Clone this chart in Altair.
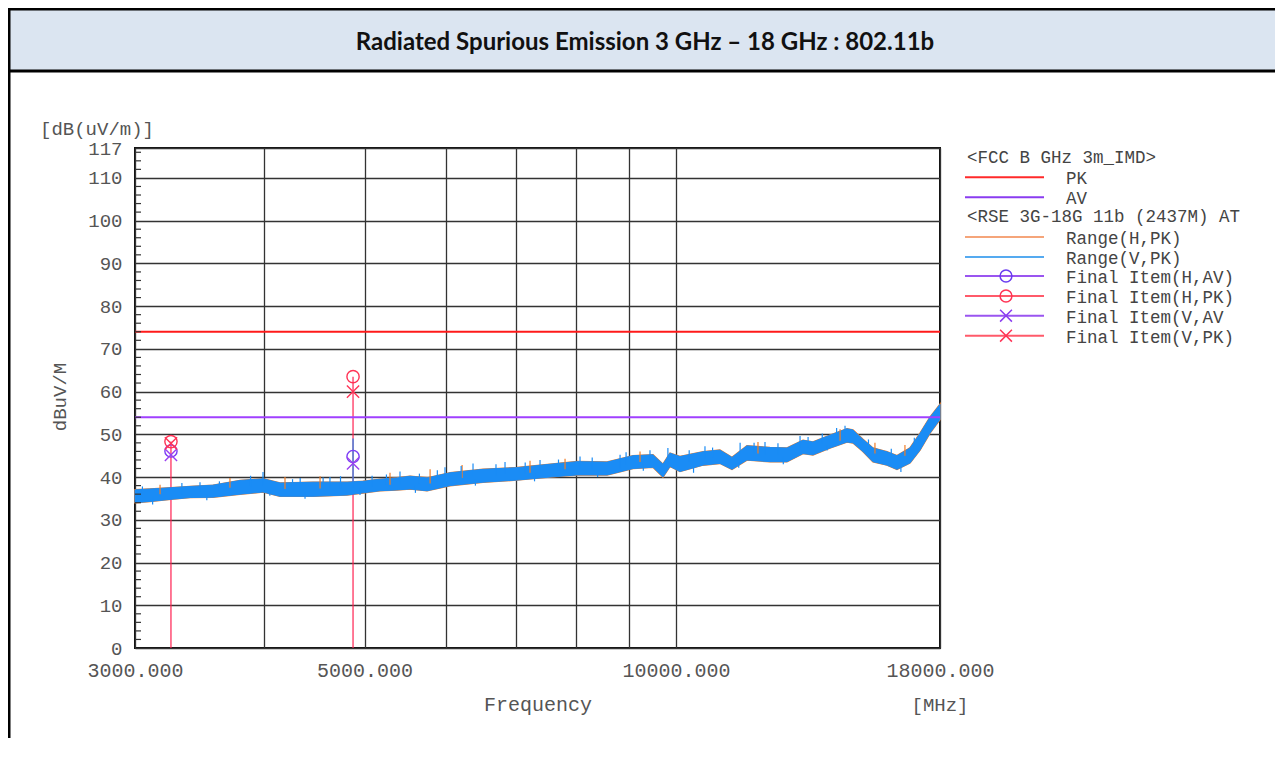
import altair as alt
import pandas as pd

# ---------------- data ----------------
trace_freq = [3000, 3101, 3250, 3391, 3569, 3790, 3989, 4143, 4459, 4810, 4983, 5175, 5375, 5534,
              5747, 6049, 6509, 7021, 7557, 8024, 8580, 9090, 9502, 9716, 9869, 10090, 10621, 11030,
              11329, 11713, 12328, 12805, 13268, 13567, 14090, 14634, 14831, 15163, 15505, 15995,
              16356, 16838, 17215, 17604, 18000]
trace_lo = [34.0, 34.3, 34.8, 35.2, 35.3, 36.0, 36.5, 35.5, 35.5, 35.8, 36.3, 36.8, 37.0, 37.2,
            36.8, 38.0, 38.8, 39.3, 40.0, 40.5, 40.5, 42.0, 42.3, 40.0, 42.5, 41.3, 42.8, 43.2,
            41.8, 44.0, 43.6, 43.6, 45.5, 45.2, 46.8, 48.2, 48.0, 46.0, 43.6, 42.8,
            41.8, 43.3, 46.3, 50.3, 53.5]
trace_hi = [37.0, 37.2, 37.5, 37.8, 38.1, 39.2, 39.6, 38.6, 38.8, 38.8, 39.0, 39.5, 39.8, 40.2,
            39.8, 41.0, 41.8, 42.2, 43.0, 43.6, 43.5, 45.0, 45.2, 43.0, 45.6, 44.8, 45.9, 46.3,
            44.6, 47.3, 46.9, 46.8, 48.6, 48.2, 49.8, 51.3, 51.0, 48.8, 46.8, 45.9,
            45.0, 46.8, 50.2, 54.0, 57.0]

# upward noise spikes of the V trace
v_spike_freq = [3467, 3989, 4333, 4630, 4874, 5085, 5411, 5981, 6366, 6836, 7390, 8078, 8831,
                9439, 9823, 10668, 11536, 12193, 13182, 14570,
                3050, 3330, 3620, 3880, 4260, 4560, 4740, 5250, 5650, 5880, 6200, 6700, 7150,
                7700, 8300, 8950, 10300, 10850, 11900, 12550, 13420, 13850, 14300, 15350, 16150, 17000]
v_spike_top = [38.8, 41.2, 39.8, 40.0, 49.0, 40.3, 41.3, 42.3, 43.2, 43.5, 44.0, 44.8, 45.2,
               46.3, 46.8, 47.2, 48.0, 48.2, 49.6, 52.0,
               37.8, 38.6, 39.0, 40.3, 39.5, 39.9, 40.2, 40.6, 40.8, 41.6, 42.6, 43.0, 43.4,
               44.1, 44.6, 45.8, 46.3, 46.9, 48.0, 47.9, 49.4, 50.2, 51.5, 48.8, 46.6, 49.2]
v_spike_base = [36.5, 38.0, 37.0, 37.3, 37.5, 37.8, 38.5, 39.5, 40.3, 40.8, 41.5, 42.0, 42.0,
                43.7, 44.0, 44.3, 45.5, 45.2, 47.0, 49.5,
                35.5, 36.0, 36.8, 37.8, 37.0, 37.2, 37.3, 38.2, 38.5, 39.0, 39.8, 40.3, 40.8,
                41.5, 42.0, 43.0, 43.5, 44.5, 45.5, 45.2, 47.0, 47.8, 49.0, 46.5, 44.5, 46.5]

# downward noise spikes of the V trace
vd_spike_freq = [3120, 3520, 4050, 4380, 4950, 5600, 6400, 7300, 8400, 9300, 10400, 11500, 12700, 14000, 16500]
vd_spike_top = [35.5, 36.0, 37.0, 36.5, 37.5, 38.0, 39.5, 40.8, 41.5, 43.0, 42.5, 43.5, 44.5, 47.5, 42.5]
vd_spike_bottom = [33.6, 34.6, 35.6, 34.9, 35.8, 36.3, 38.0, 39.0, 40.0, 41.5, 41.0, 42.2, 43.0, 46.2, 41.2]

# noise spikes of the H trace
h_spike_freq = [3172, 3706, 4189, 4529, 5292, 5786, 6213, 7227, 7813, 9232, 12004, 14410, 15574, 16649]
h_spike_top = [38.2, 39.8, 40.0, 40.2, 41.0, 41.8, 42.8, 43.8, 44.3, 46.0, 48.2, 51.2, 48.0, 47.5]
h_spike_base = [36.0, 37.5, 37.2, 37.3, 38.2, 38.5, 39.8, 41.0, 41.8, 43.5, 45.5, 48.5, 45.5, 45.0]

fi_freq = [3250, 4874]
fi_h_av = [46.1, 44.8]
fi_h_pk = [48.3, 63.5]
fi_v_av = [45.2, 43.2]
fi_v_pk = [47.9, 60.0]

pk_limit = 74
av_limit = 54

x_ticks = [3000, 4000, 5000, 6000, 7000, 8000, 9000, 10000, 18000]
x_labelled = [3000, 5000, 10000, 18000]
y_ticks = [0, 10, 20, 30, 40, 50, 60, 70, 80, 90, 100, 110, 117]
y_minor = [v for v in range(2, 117, 2) if v % 10 != 0]

title_text = "Radiated Spurious Emission 3 GHz \u2013 18 GHz : 802.11b"
legend_headers = ["<FCC B GHz 3m_IMD>", "<RSE 3G-18G 11b (2437M) AT"]
legend_labels = ["PK", "AV", "Range(H,PK)", "Range(V,PK)", "Final Item(H,AV)",
                 "Final Item(H,PK)", "Final Item(V,AV", "Final Item(V,PK)"]
legend_line_colors = ["#ff2a2a", "#8a3cf0", "#f5a57a", "#55aaf0", "#9a55f0", "#ff5a6a", "#9a55f0", "#ff5a6a"]
legend_marker = ["", "", "", "", "circle", "circle", "x", "x"]
legend_marker_colors = ["", "", "", "", "#6a3cf0", "#ff3355", "#8a3cf0", "#ff3355"]

# ---------------- styling / layout ----------------
W, H = 805, 500
MONO = "Liberation Mono"
TXT = "#555555"
BLUE = "#1a8cf5"
ORANGE = "#f07d28"
XPATH = "M-1,-1L1,1M1,-1L-1,1"

xs = alt.Scale(type="log", domain=[3000, 18000], nice=False)
ys = alt.Scale(domain=[0, 117], nice=False, zero=False)

lbl_expr = "(" + "||".join(f"datum.value=={v}" for v in x_labelled) + ") ? format(datum.value,'.3f') : ''"
x_axis = alt.Axis(values=x_ticks, labelExpr=lbl_expr, grid=True, gridColor="#333333", gridWidth=1.3,
                  ticks=False, domain=False, labelFont=MONO, labelFontSize=20, labelColor=TXT,
                  labelPadding=12, labelFlush=False, labelOverlap=False, labelBound=False, title=None)
y_axis = alt.Axis(values=y_ticks, grid=True, gridColor="#333333", gridWidth=1.3, ticks=False,
                  domain=False, labelFont=MONO, labelFontSize=19, labelColor=TXT, labelPadding=13,
                  labelOverlap=False, title=None)


def X(field):
    return alt.X(field, type="quantitative", scale=xs, axis=x_axis)


def Y(field):
    return alt.Y(field, type="quantitative", scale=ys, axis=y_axis)


one = pd.DataFrame({"a": [0]})

trace_df = pd.DataFrame({"f": trace_freq, "lo": trace_lo, "hi": trace_hi})
vs_df = pd.DataFrame({"f": v_spike_freq, "b": v_spike_base, "t": v_spike_top})
vd_df = pd.DataFrame({"f": vd_spike_freq, "b": vd_spike_bottom, "t": vd_spike_top})
hs_df = pd.DataFrame({"f": h_spike_freq, "b": h_spike_base, "t": h_spike_top})
fi_df = pd.DataFrame({"f": fi_freq, "zero": [0] * len(fi_freq), "hav": fi_h_av, "hpk": fi_h_pk,
                      "vav": fi_v_av, "vpk": fi_v_pk})
minor_df = pd.DataFrame({"v": y_minor})

orange_band = alt.Chart(trace_df).mark_area(color=ORANGE, stroke=ORANGE, strokeWidth=1.6).encode(
    x=X("f"), y=Y("lo"), y2="hi")
blue_band = alt.Chart(trace_df).mark_area(color=BLUE, stroke=BLUE, strokeWidth=1).encode(
    x=X("f"), y=Y("lo"), y2="hi")
h_spikes = alt.Chart(hs_df).mark_rule(color=ORANGE, strokeWidth=1.2).encode(x=X("f"), y=Y("b"), y2="t")
v_spikes = alt.Chart(vs_df).mark_rule(color=BLUE, strokeWidth=1.2).encode(x=X("f"), y=Y("b"), y2="t")
vd_spikes = alt.Chart(vd_df).mark_rule(color=BLUE, strokeWidth=1.2).encode(x=X("f"), y=Y("b"), y2="t")

stems = alt.Chart(fi_df).mark_rule(color="#ff2050", strokeWidth=1.2).encode(
    x=X("f"), y=Y("zero"), y2="hpk")


def markers(col, shape, color):
    return alt.Chart(fi_df).mark_point(shape=shape, filled=False, color=color, size=150,
                                       strokeWidth=1.4, opacity=1).encode(x=X("f"), y=Y(col))


m_hav = markers("hav", "circle", "#7a3cf5")
m_hpk = markers("hpk", "circle", "#ff3355")
m_vav = markers("vav", XPATH, "#9a40f0")
m_vpk = markers("vpk", XPATH, "#ff3355")

lim_pk = alt.Chart(pd.DataFrame({"v": [pk_limit]})).mark_rule(color="#ff1a1a", strokeWidth=2).encode(y=Y("v"))
lim_av = alt.Chart(pd.DataFrame({"v": [av_limit]})).mark_rule(color="#a040ff", strokeWidth=2).encode(y=Y("v"))

minor_ticks = alt.Chart(minor_df).mark_rule(color="#333333", strokeWidth=1.2).encode(
    x=alt.value(0), x2=alt.value(6), y=Y("v"))


# ---------------- decorations: header band, frame, texts ----------------
def deco_rule(x, y, x2=None, y2=None, color="#000000", width=3):
    enc = dict(x=alt.value(x), y=alt.value(y))
    if x2 is not None:
        enc["x2"] = alt.value(x2)
    if y2 is not None:
        enc["y2"] = alt.value(y2)
    return alt.Chart(one).mark_rule(color=color, strokeWidth=width).encode(**enc)


band = alt.Chart(one).mark_rect(color="#dbe5f1").encode(
    x=alt.value(-127), x2=alt.value(1144), y=alt.value(-140), y2=alt.value(-77))
band_top = deco_rule(-127, -139, x2=1144)
band_bot = deco_rule(-127, -77, x2=1144)
left_border = deco_rule(-126, -140, y2=600)
title = alt.Chart(one).mark_text(text=title_text, font="Lato", fontWeight="bold", fontSize=24,
                                 color="#111111", align="center", baseline="middle").encode(
    x=alt.value(510), y=alt.value(-105))


def label(txt, x, y, size=19, align="left", angle=0, color=TXT):
    return alt.Chart(one).mark_text(text=txt, font=MONO, fontSize=size, color=color, align=align,
                                    baseline="middle", angle=angle).encode(x=alt.value(x), y=alt.value(y))


unit_y = label("[dB(uV/m)]", -95, -19)
title_y = label("dBuV/M", -75, 249, align="center", angle=270)
title_x = label("Frequency", 403, 557, size=20, align="center")
unit_x = label("[MHz]", 805, 557, align="center")

# ---------------- legend (drawn item by item) ----------------
rows_y = [29.3, 49.3, 89, 109, 128, 148, 167.7, 187.7]
header_y = [10, 69]
LX0, LX1, LXM, LXT, LXH = 830, 909, 871, 931, 832

legend_layers = []
for txt, hy in zip(legend_headers, header_y):
    legend_layers.append(label(txt, LXH, hy, size=17.5, color="#444444"))
for txt, lc, mk, mc, ry in zip(legend_labels, legend_line_colors, legend_marker,
                               legend_marker_colors, rows_y):
    legend_layers.append(deco_rule(LX0, ry, x2=LX1, color=lc, width=2))
    legend_layers.append(label(txt, LXT, ry + 2, size=17.5, color="#444444"))
    if mk:
        shape = "circle" if mk == "circle" else XPATH
        legend_layers.append(alt.Chart(one).mark_point(shape=shape, filled=False, color=mc,
                                                       size=140, strokeWidth=1.5, opacity=1).encode(
            x=alt.value(LXM), y=alt.value(ry)))

chart = alt.layer(
    orange_band, band, band_top, band_bot, left_border, title,
    stems, blue_band, h_spikes, v_spikes, vd_spikes, lim_pk, lim_av, minor_ticks,
    m_hav, m_hpk, m_vav, m_vpk,
    unit_y, title_y, title_x, unit_x,
    *legend_layers,
).properties(
    width=W, height=H,
    autosize=alt.AutoSizeParams(type="none"),
    padding={"left": 127, "top": 140, "right": 335, "bottom": 90},
    background="white",
).configure_view(stroke="#111111", strokeWidth=2)

chart.save("out.html", embed_options={"renderer": "svg", "actions": False})
